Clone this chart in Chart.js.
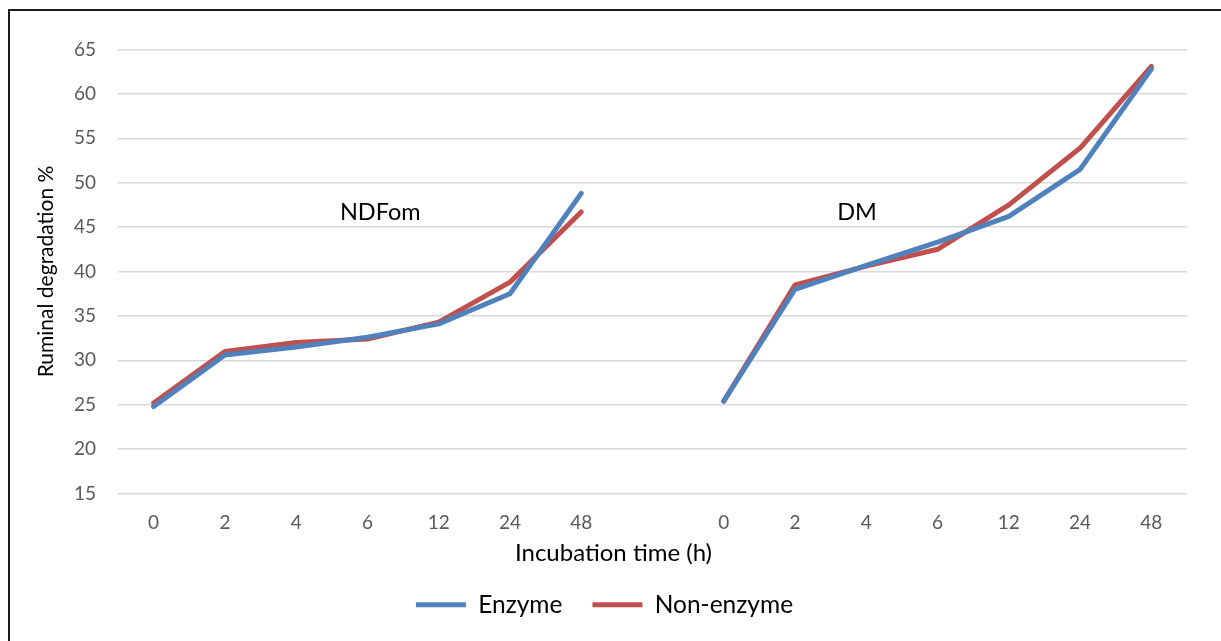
<!DOCTYPE html>
<html>
<head>
<meta charset="utf-8">
<script src="https://cdn.jsdelivr.net/npm/chart.js@4.4.1/dist/chart.umd.min.js"></script>
<style>
  html, body { margin: 0; padding: 0; background: #fff; }
  #wrap { position: relative; width: 1221px; height: 641px; }
</style>
</head>
<body>
<div id="wrap"><canvas id="c" width="1221" height="641"></canvas></div>
<script>
// Incubation times for each fraction; a blank slot separates the two groups
const ndfTimes = ['0', '2', '4', '6', '12', '24', '48'];
const dmTimes = ['0', '2', '4', '6', '12', '24', '48'];
const categories = [...ndfTimes, '', ...dmTimes];

// Ruminal degradation (%) per incubation time
const enzymeNDFom = [24.8, 30.6, 31.5, 32.6, 34.1, 37.5, 48.8];
const nonEnzymeNDFom = [25.2, 31.0, 32.0, 32.4, 34.3, 38.8, 46.7];
const enzymeDM = [25.4, 38.0, 40.7, 43.3, 46.2, 51.5, 62.8];
const nonEnzymeDM = [25.4, 38.5, 40.6, 42.5, 47.5, 53.9, 63.1];

const yTicks = [15, 20, 25, 30, 35, 40, 45, 50, 55, 60, 65];
const groupLabels = [
  { text: 'NDFom', index: 3.18, value: 46.6 },
  { text: 'DM', index: 9.87, value: 46.6 }
];
const xTitle = 'Incubation time (h)';

const FONT = 'Lato, "Open Sans", sans-serif';

// Outer frame around the figure
const frame = {
  id: 'frame',
  afterDraw(chart) {
    const ctx = chart.ctx;
    ctx.save();
    ctx.strokeStyle = '#1a1a1a';
    ctx.lineWidth = 2;
    ctx.strokeRect(9, 10, 1400, 800);
    ctx.restore();
  }
};

// Group captions inside the plot and the x-axis caption centred on the figure
const captions = {
  id: 'captions',
  afterDatasetsDraw(chart) {
    const ctx = chart.ctx;
    const xs = chart.scales.x, ys = chart.scales.y;
    ctx.save();
    ctx.fillStyle = '#000';
    ctx.textAlign = 'center';
    ctx.textBaseline = 'middle';
    ctx.font = '23.5px ' + FONT;
    groupLabels.forEach(g => {
      const i = Math.floor(g.index);
      const x0 = xs.getPixelForValue(i);
      const x1 = xs.getPixelForValue(i + 1);
      const x = x0 + (x1 - x0) * (g.index - i);
      ctx.fillText(g.text, x, ys.getPixelForValue(g.value));
    });
    ctx.font = '24px ' + FONT;
    ctx.fillText(xTitle, chart.width / 2 + 3, xs.bottom - 9);
    ctx.restore();
  }
};

const gap = [null];
new Chart(document.getElementById('c'), {
  type: 'line',
  data: {
    labels: categories,
    datasets: [
      {
        label: 'Enzyme',
        data: [...enzymeNDFom, ...gap, ...enzymeDM],
        borderColor: '#4F81BD',
        backgroundColor: '#4F81BD',
        borderWidth: 5,
        borderCapStyle: 'round',
        borderJoinStyle: 'round',
        pointRadius: 0,
        tension: 0,
        spanGaps: false
      },
      {
        label: 'Non-enzyme',
        data: [...nonEnzymeNDFom, ...gap, ...nonEnzymeDM],
        borderColor: '#C0504D',
        backgroundColor: '#C0504D',
        borderWidth: 5,
        borderCapStyle: 'round',
        borderJoinStyle: 'round',
        pointRadius: 0,
        tension: 0,
        spanGaps: false
      }
    ]
  },
  options: {
    responsive: false,
    animation: false,
    events: [],
    layout: { padding: { left: 22, right: 34, top: 49.5, bottom: 14 } },
    plugins: {
      tooltip: { enabled: false },
      legend: {
        position: 'bottom',
        labels: {
          usePointStyle: true,
          pointStyle: 'line',
          pointStyleWidth: 50,
          color: '#000',
          font: { family: FONT, size: 24.5 },
          padding: 30
        }
      }
    },
    scales: {
      x: {
        type: 'category',
        offset: true,
        grid: { display: false, drawTicks: false },
        border: { display: false },
        ticks: {
          color: '#595959',
          font: { family: FONT, size: 19 },
          padding: 18,
          maxRotation: 0,
          autoSkip: false
        },
        afterFit(scale) { scale.height = 69; }
      },
      y: {
        min: 15,
        max: 65,
        afterBuildTicks(scale) { scale.ticks = yTicks.map(v => ({ value: v })); },
        grid: { color: '#d9d9d9', lineWidth: 1.5, drawTicks: false },
        border: { display: false },
        ticks: {
          color: '#595959',
          font: { family: FONT, size: 19 },
          padding: 22
        },
        title: {
          display: true,
          text: 'Ruminal degradation %',
          color: '#000',
          font: { family: FONT, size: 21 },
          padding: { top: 12, bottom: 0 }
        },
        afterFit(scale) { scale.width = 96; }
      }
    }
  },
  plugins: [frame, captions]
});
</script>
</body>
</html>
